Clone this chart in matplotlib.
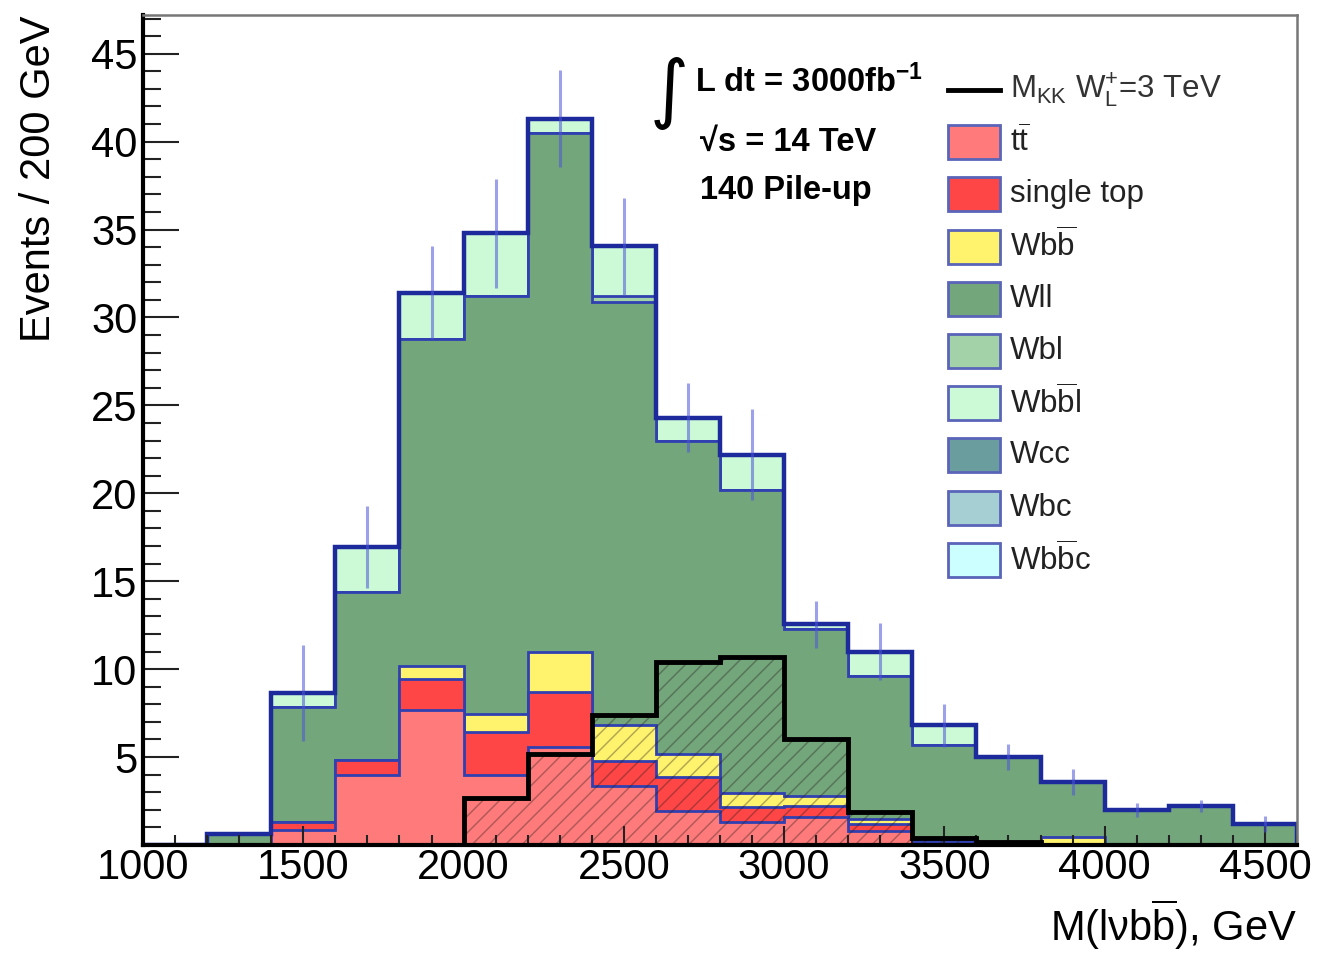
import numpy as np
import matplotlib
matplotlib.use('Agg')
import matplotlib.pyplot as plt
from matplotlib.patches import Rectangle
from matplotlib.lines import Line2D
from matplotlib.ticker import MultipleLocator

plt.rcParams['font.family'] = ['Liberation Sans', 'DejaVu Sans']
plt.rcParams['mathtext.fontset'] = 'custom'
plt.rcParams['mathtext.rm'] = 'Liberation Sans'
plt.rcParams['mathtext.it'] = 'Liberation Sans:italic'
plt.rcParams['mathtext.bf'] = 'Liberation Sans:bold'
plt.rcParams['hatch.linewidth'] = 1.1

# bins of 200 GeV, 1000 - 4600
bin_edges = [1000, 1200, 1400, 1600, 1800, 2000, 2200, 2400, 2600, 2800,
             3000, 3200, 3400, 3600, 3800, 4000, 4200, 4400, 4600]

# background contributions per bin (stacked bottom -> top)
ttbar      = [0, 0, 0.85, 4.0, 7.7, 4.0, 5.55, 3.35, 1.95, 1.3, 1.6, 0.8, 0.15, 0, 0, 0, 0, 0]
single_top = [0, 0, 0.45, 0.85, 1.75, 2.4, 3.15, 1.45, 1.9, 0.85, 0.6, 0.4, 0.1, 0, 0, 0, 0, 0]
wbb        = [0, 0, 0, 0, 0.75, 1.05, 2.25, 2.0, 1.35, 0.8, 0.6, 0.3, 0.1, 0, 0.45, 0, 0, 0]
wll        = [0, 0.6, 6.55, 9.55, 18.6, 23.75, 29.55, 24.1, 17.8, 17.25, 9.5, 8.1, 5.35, 5.0, 3.15, 2.0, 2.2, 1.2]
wbl        = [0, 0, 0, 0, 0, 0, 0, 0.3, 0, 0, 0, 0, 0, 0, 0, 0, 0, 0]
wbbl       = [0, 0, 0.8, 2.55, 2.6, 3.6, 0.8, 2.85, 1.3, 2.0, 0.25, 1.4, 1.1, 0, 0, 0, 0, 0]
wcc        = [0] * 18
wbc        = [0] * 18
wbbc       = [0] * 18

# signal M_KK = 3 TeV
signal = [0, 0, 0, 0, 0, 2.7, 5.2, 7.4, 10.4, 10.7, 6.0, 1.9, 0.4, 0.15, 0, 0, 0, 0]

# error bar half-lengths on the total
errors = [0, 0, 2.75, 2.35, 2.65, 3.1, 2.75, 2.75, 1.95, 2.6, 1.35, 1.6, 1.2, 0.75, 0.75, 0.4, 0.35, 0.45]

labels = [r't$\overline{\mathrm{t}}$', 'single top', r'Wb$\overline{\mathrm{b}}$', 'Wll', 'Wbl',
          r'Wb$\overline{\mathrm{b}}$l', 'Wcc', 'Wbc', r'Wb$\overline{\mathrm{b}}$c']
colors = ['#ff7b7b', '#ff4646', '#fff36e', '#73a67b', '#a3d2a8',
          '#ccf9d6', '#6a9e9e', '#a5cfd2', '#ccffff']
signal_label = r'M$_{\mathrm{KK}}$ W$^{+}_{\mathrm{L}}$=3 TeV'

edge_blue = '#3040b0'
total_blue = '#1c2a9c'

fig = plt.figure(figsize=(13.25, 9.57), dpi=100)
ax = fig.add_axes([143 / 1325, 1 - 845 / 957, 1154 / 1325, 830 / 957])

layers = np.vstack([ttbar, single_top, wbb, wll, wbl, wbbl, wcc, wbc, wbbc])
cum = np.cumsum(layers, axis=0)
edges = np.array(bin_edges)
centers = 0.5 * (edges[:-1] + edges[1:])

# ROOT-style stack: each cumulative histogram filled from zero, top first
for i in range(len(colors) - 1, -1, -1):
    ax.stairs(cum[i], edges, baseline=0, fill=True, facecolor=colors[i],
              edgecolor=edge_blue, lw=2, zorder=1)
total = cum[-1]
ax.stairs(total, edges, baseline=0, fill=False, edgecolor=total_blue, lw=3.2, zorder=1.5)

# signal: hatched area + thick black outline
ax.stairs(signal, edges, baseline=0, fill=True, facecolor='none',
          edgecolor=(0.15, 0.1, 0.1, 0.35), hatch='//', lw=0, zorder=2)
ax.stairs(signal, edges, baseline=0, fill=False, edgecolor='black', lw=3.5, zorder=3)

# error bars
err = np.array(errors)
m = err > 0
ax.errorbar(centers[m], total[m], yerr=err[m], fmt='none',
            ecolor=(0.3, 0.33, 0.85, 0.55), elinewidth=2.2, capsize=0, zorder=4)

ax.set_xlim(1000, 4600)
ax.set_ylim(0, 47.2)
ax.set_xticks(range(1000, 4501, 500))
ax.set_yticks(range(5, 46, 5))
ax.xaxis.set_minor_locator(MultipleLocator(100))
ax.yaxis.set_minor_locator(MultipleLocator(1))
ax.tick_params(axis='both', which='both', direction='in', top=False, right=False,
               labelsize=30, colors='#222222', labelcolor='black')
ax.tick_params(axis='y', which='major', length=26, width=1.5, pad=4)
ax.tick_params(axis='y', which='minor', length=13, width=1.5)
ax.tick_params(axis='x', which='major', length=14, width=1.5, pad=2)
ax.tick_params(axis='x', which='minor', length=7, width=1.5)

for s in ['left', 'bottom']:
    ax.spines[s].set_linewidth(3)
    ax.spines[s].set_color('black')
for s in ['top', 'right']:
    ax.spines[s].set_linewidth(1.8)
    ax.spines[s].set_color('#777777')

ax.set_ylabel('Events / 200 GeV', fontsize=30, loc='top')
ax.yaxis.set_label_coords(-0.073, 1.0)
ax.set_xlabel(r'M(lνb$\overline{\mathrm{b}}$), GeV', fontsize=30, loc='right')
ax.xaxis.set_label_coords(1.0, -0.063)

# luminosity / energy text
ax.text(0.456, 0.905, '∫', transform=ax.transAxes, fontsize=54, ha='center', va='center',
        family='DejaVu Sans')
ax.text(0.478, 0.919, r'L dt = 3000fb$^{\mathbf{-1}}$', transform=ax.transAxes,
        fontsize=23.5, fontweight='bold', ha='left', va='center')
ax.text(0.483, 0.846, '√s = 14 TeV', transform=ax.transAxes,
        fontsize=23.5, fontweight='bold', ha='left', va='center')
ax.text(0.483, 0.789, '140 Pile-up', transform=ax.transAxes,
        fontsize=23.5, fontweight='bold', ha='left', va='center')

# legend, drawn by hand in axes fraction
lx0 = (948 - 143) / 1154
bw = 52 / 1154
bh = 34 / 830
step = 52.2 / 830
y0 = (845 - 90) / 830
tx = (1010 - 143) / 1154
ax.add_line(Line2D([lx0, lx0 + bw], [y0, y0], transform=ax.transAxes,
                   color='black', lw=3.5, zorder=6))
ax.text(tx, y0, signal_label, transform=ax.transAxes, fontsize=22.5,
        color='#333333', ha='left', va='center', zorder=6)
for k, (lab, col) in enumerate(zip(labels, colors)):
    yc = y0 - (k + 1) * step
    ax.add_patch(Rectangle((lx0, yc - bh / 2), bw, bh, transform=ax.transAxes,
                           facecolor=col, edgecolor='#5a64b8', lw=2, zorder=6))
    ax.text(tx, yc, lab, transform=ax.transAxes, fontsize=22.5,
            color='#222222', ha='left', va='center', zorder=6)

fig.savefig('out.png', dpi=100)
